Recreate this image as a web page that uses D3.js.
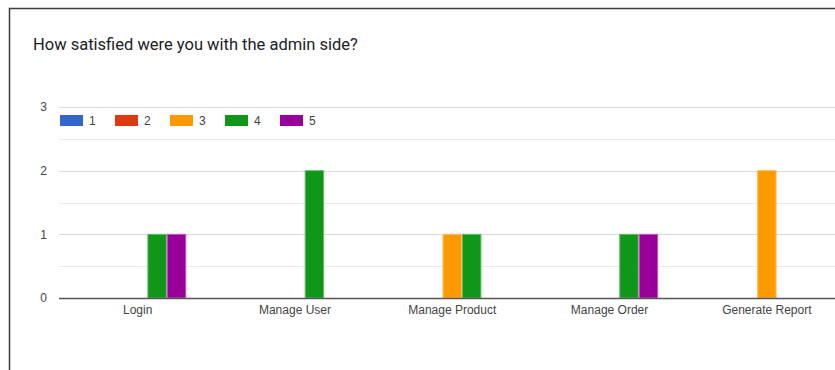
<!DOCTYPE html>
<html>
<head>
<meta charset="utf-8">
<script src="https://cdn.jsdelivr.net/npm/d3@7"></script>
<style>
  html, body { margin: 0; padding: 0; background: #fff; }
  body { width: 835px; height: 370px; overflow: hidden; }
  text { font-family: Arial, "Liberation Sans", sans-serif; }
</style>
</head>
<body>
<div id="chart"></div>
<script>
// data
var title = 'How satisfied were you with the admin side?';
var categories = ['Login', 'Manage User', 'Manage Product', 'Manage Order', 'Generate Report'];
var seriesNames = ['1', '2', '3', '4', '5'];
var seriesColors = ['#3366cc', '#dc3912', '#ff9900', '#109618', '#990099'];
// counts per category, one array per rating
var rating1 = [0, 0, 0, 0, 0];
var rating2 = [0, 0, 0, 0, 0];
var rating3 = [0, 0, 1, 0, 2];
var rating4 = [1, 2, 1, 1, 0];
var rating5 = [1, 0, 0, 1, 0];
var yTicks = [0, 1, 2, 3];
var yMinorTicks = [0.5, 1.5, 2.5];

var seriesValues = [rating1, rating2, rating3, rating4, rating5];

var dimensions = {
  width: 835,
  height: 370,
  plot: { left: 59, right: 845.5, top: 107, bottom: 298 }
};

var svg = d3.select('#chart')
  .append('svg')
  .attr('width', dimensions.width)
  .attr('height', dimensions.height);

// card border
svg.append('path')
  .attr('d', 'M9.5,370 V8.5 H835')
  .attr('fill', 'none')
  .attr('stroke', '#3c3c3c')
  .attr('stroke-width', 1.5);

svg.append('text')
  .attr('x', 33)
  .attr('y', 50)
  .attr('fill', '#202124')
  .style('font-family', 'Roboto, Arial, sans-serif')
  .style('font-size', '16.5px')
  .text(title);

// scales
var xScale = d3.scaleBand()
  .domain(categories)
  .range([dimensions.plot.left, dimensions.plot.right]);

var groupWidth = xScale.bandwidth() * 0.618;

var xInner = d3.scaleBand()
  .domain(seriesNames)
  .range([0, groupWidth]);

var yScale = d3.scaleLinear()
  .domain([0, 3])
  .range([dimensions.plot.bottom, dimensions.plot.top]);

// gridlines
svg.append('g')
  .selectAll('line')
  .data(yMinorTicks)
  .join('line')
  .attr('x1', dimensions.plot.left)
  .attr('x2', dimensions.width)
  .attr('y1', d => Math.round(yScale(d)) + 0.5)
  .attr('y2', d => Math.round(yScale(d)) + 0.5)
  .attr('stroke', '#ebebeb')
  .attr('stroke-width', 1);

svg.append('g')
  .selectAll('line')
  .data(yTicks.filter(d => d > 0))
  .join('line')
  .attr('x1', dimensions.plot.left)
  .attr('x2', dimensions.width)
  .attr('y1', d => Math.round(yScale(d)) + 0.5)
  .attr('y2', d => Math.round(yScale(d)) + 0.5)
  .attr('stroke', '#d9d9d9')
  .attr('stroke-width', 1);

// y axis labels
var yAxis = d3.axisLeft(yScale)
  .tickValues(yTicks)
  .tickSize(0)
  .tickPadding(0)
  .tickFormat(d3.format('d'));

var yAxisGroup = svg.append('g')
  .attr('transform', 'translate(47,0)')
  .call(yAxis);
yAxisGroup.select('.domain').remove();
yAxisGroup.selectAll('text')
  .attr('fill', '#444')
  .style('font-size', '12px')
  .style('font-family', 'Arial, "Liberation Sans", sans-serif');

// bars
var groups = svg.append('g')
  .selectAll('g')
  .data(categories)
  .join('g')
  .attr('transform', d => 'translate(' + (xScale(d) + (xScale.bandwidth() - groupWidth) / 2) + ',0)');

groups.selectAll('rect')
  .data((cat, ci) => seriesNames.map((s, si) => ({ series: s, color: seriesColors[si], value: seriesValues[si][ci] })))
  .join('rect')
  .filter(d => d.value > 0)
  .attr('x', d => xInner(d.series) + 0.5)
  .attr('width', xInner.bandwidth() - 1)
  .attr('y', d => yScale(d.value))
  .attr('height', d => yScale(0) - yScale(d.value))
  .attr('fill', d => d.color)
  .attr('stroke', d => d3.interpolateRgb(d.color, '#ffffff')(0.35))
  .attr('stroke-width', 1);

// baseline
svg.append('line')
  .attr('x1', dimensions.plot.left)
  .attr('x2', dimensions.width)
  .attr('y1', yScale(0) + 0.5)
  .attr('y2', yScale(0) + 0.5)
  .attr('stroke', '#555')
  .attr('stroke-width', 1.5);

// x axis labels
var xAxis = d3.axisBottom(xScale)
  .tickSize(0)
  .tickPadding(0);

var xAxisGroup = svg.append('g')
  .attr('transform', 'translate(0,' + (dimensions.plot.bottom + 7) + ')')
  .call(xAxis);
xAxisGroup.select('.domain').remove();
xAxisGroup.selectAll('text')
  .attr('fill', '#444')
  .attr('dy', '0.71em')
  .style('font-size', '12px')
  .style('font-family', 'Arial, "Liberation Sans", sans-serif');

// legend
var legend = svg.append('g')
  .selectAll('g')
  .data(seriesNames)
  .join('g')
  .attr('transform', (d, i) => 'translate(' + (60 + i * 55) + ',115)');

legend.append('rect')
  .attr('width', 23)
  .attr('height', 11)
  .attr('fill', (d, i) => seriesColors[i]);

legend.append('text')
  .attr('x', 29)
  .attr('y', 10)
  .attr('fill', '#444')
  .style('font-size', '12px')
  .text(d => d);
</script>
</body>
</html>
